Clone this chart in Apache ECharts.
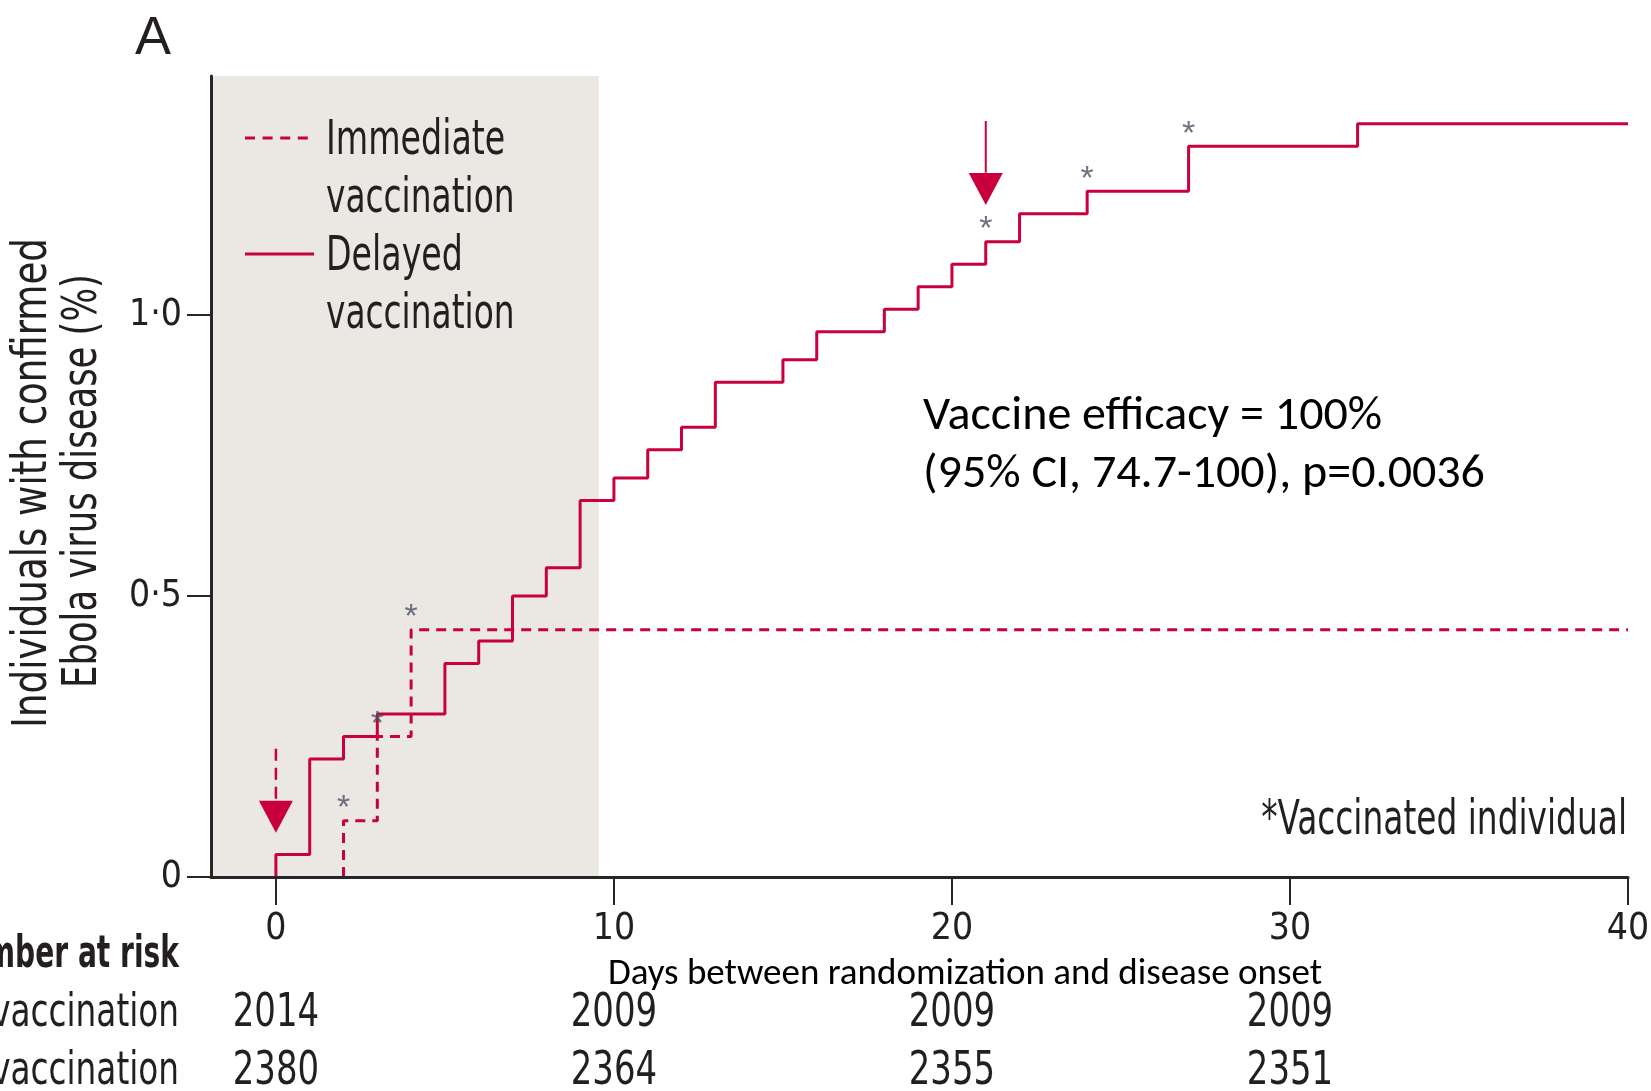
<!DOCTYPE html>
<html>
<head>
<meta charset="utf-8">
<script src="https://cdn.jsdelivr.net/npm/echarts@6/dist/echarts.min.js"></script>
<style>
  html, body { margin: 0; padding: 0; background: #fff; }
  #chart { width: 1651px; height: 1091px; }
</style>
</head>
<body>
<div id="chart"></div>
<script>
// data (cumulative % with confirmed EVD)
const xTicks = [0, 10, 20, 30, 40];
const yTicks = [0, 0.5, 1.0];

const delayedDays = [0, 0, 1, 2, 3, 5, 6, 7, 8, 9, 10, 11, 12, 13, 15, 16, 18, 19, 20, 21, 22, 24, 27, 32, 40];
const delayedPct = [0, 0.04, 0.21, 0.25, 0.29, 0.38, 0.42, 0.50, 0.55, 0.67, 0.71, 0.76, 0.80, 0.88, 0.92, 0.97, 1.01, 1.05, 1.09, 1.13, 1.18, 1.22, 1.30, 1.34, 1.34];

const immediateDays = [2, 2, 3, 4, 40];
const immediatePct = [0, 0.10, 0.25, 0.44, 0.44];

// vaccinated individuals (asterisks)
const immediateVaccDays = [2, 3, 4];
const immediateVaccPct = [0.10, 0.25, 0.44];
const delayedVaccDays = [21, 24, 27];
const delayedVaccPct = [1.13, 1.22, 1.30];

// vaccination time arrows
const immediateArrow = [[0, 0.228], [0, 0.135]];
const immediateHead = [0, 0.107];
const delayedArrow = [[21, 1.345], [21, 1.253]];
const delayedHead = [21, 1.224];

// shaded window (days)
const shadeEnd = 9.55;

// number at risk
const riskDays = [0, 10, 20, 30];
const immediateAtRisk = [2014, 2009, 2009, 2009];
const delayedAtRisk = [2380, 2364, 2355, 2351];

const RED = '#c8003c';
const INK = '#231f20';
const NARROW = '"Liberation Sans Narrow", "DejaVu Sans Condensed", "Liberation Sans", sans-serif';
const CAL = 'Carlito, Lato, "Open Sans", sans-serif';
const xMin = -1.92, yMax = 1.425;

const zip = (a, b) => a.map((v, i) => [v, b[i]]);

var chartDom = document.getElementById('chart');
var myChart = echarts.init(chartDom);
var option;

option = {
  animation: false,
  backgroundColor: '#fff',
  grid: { left: 211, right: 23, top: 76, bottom: 214, containLabel: false, outerBoundsMode: 'none' },
  xAxis: {
    type: 'value', min: xMin, max: 40, z: 10,
    axisLine: { onZero: false, lineStyle: { color: '#262626', width: 3 } },
    axisTick: { customValues: xTicks, length: 28, lineStyle: { color: '#262626', width: 2 } },
    axisLabel: { customValues: xTicks, margin: 52, verticalAlign: 'middle', fontFamily: NARROW, fontSize: 37, color: INK },
    splitLine: { show: false }
  },
  yAxis: {
    type: 'value', min: 0, max: yMax, z: 10,
    axisLine: { show: true, onZero: false, lineStyle: { color: '#262626', width: 3 } },
    axisTick: { show: true, customValues: yTicks, length: 24, lineStyle: { color: '#262626', width: 2 } },
    axisLabel: {
      customValues: yTicks, margin: 29, fontFamily: NARROW, fontSize: 37, color: INK,
      formatter: v => v === 0 ? '0' : v.toFixed(1).replace('.', '\u00b7')
    },
    splitLine: { show: false }
  },
  series: [
    {
      name: 'Delayed vaccination', type: 'line', step: 'end', symbol: 'none',
      data: zip(delayedDays, delayedPct),
      lineStyle: { color: RED, width: 3 },
      markArea: {
        silent: true,
        itemStyle: { color: '#ebe8e3' },
        data: [[{ xAxis: xMin, yAxis: 0 }, { xAxis: shadeEnd, yAxis: yMax }]]
      },
      z: 3
    },
    {
      name: 'Immediate vaccination', type: 'line', step: 'end', symbol: 'none',
      data: zip(immediateDays, immediatePct),
      lineStyle: { color: RED, width: 3, type: [10, 7] },
      z: 3
    },
    {
      type: 'scatter', symbolSize: 1, itemStyle: { color: 'rgba(0,0,0,0)' },
      data: zip(immediateVaccDays, immediateVaccPct).concat(zip(delayedVaccDays, delayedVaccPct)),
      label: {
        show: true, position: 'inside', offset: [0, -12], formatter: '*',
        fontFamily: '"Liberation Sans", sans-serif', fontSize: 34, color: '#4a5064'
      },
      z: 4
    },
    {
      type: 'line', symbol: 'none', data: immediateArrow,
      lineStyle: { color: RED, width: 2.5, type: [12, 7] }, z: 4
    },
    {
      type: 'line', symbol: 'none', data: delayedArrow,
      lineStyle: { color: RED, width: 2 }, z: 4
    },
    {
      type: 'scatter', symbol: 'triangle', symbolRotate: 180, symbolSize: [34, 32],
      data: [immediateHead, delayedHead],
      itemStyle: { color: RED, opacity: 1 }, z: 4
    }
  ]
};

option && myChart.setOption(option);

// condensed text helper (the figure uses a narrow typeface)
function txt(text, x, y, opts) {
  return {
    type: 'text', x: x, y: y, z: 100,
    scaleX: opts.sx || 1, rotation: opts.rot || 0,
    style: {
      text: text, fontFamily: opts.font || NARROW, fontSize: opts.size,
      fontWeight: opts.weight || 'normal', fill: opts.fill || INK,
      align: opts.align || 'left', verticalAlign: 'middle'
    }
  };
}

const graphics = [
  txt('A', 135, 39, { font: '"Liberation Sans", sans-serif', size: 54 }),
  // y axis title
  txt('Individuals with confirmed', 34, 483, { size: 48, sx: 0.86, rot: Math.PI / 2, align: 'center' }),
  txt('Ebola virus disease (%)', 84, 481, { size: 48, sx: 0.82, rot: Math.PI / 2, align: 'center' }),
  // legend
  { type: 'line', z: 100, shape: { x1: 245, y1: 138, x2: 309, y2: 138 }, style: { stroke: RED, lineWidth: 3, lineDash: [10, 7.6] } },
  { type: 'line', z: 100, shape: { x1: 245, y1: 254, x2: 314, y2: 254 }, style: { stroke: RED, lineWidth: 3 } },
  txt('Immediate', 326, 142, { size: 48, sx: 0.77 }),
  txt('vaccination', 326, 200, { size: 48, sx: 0.76 }),
  txt('Delayed', 326, 258, { size: 48, sx: 0.77 }),
  txt('vaccination', 326, 316, { size: 48, sx: 0.76 }),
  // annotations
  txt('Vaccine efficacy = 100%', 923, 417, { font: CAL, size: 48, fill: '#000' }),
  txt('(95% CI, 74.7-100), p=0.0036', 923, 475, { font: CAL, size: 48, fill: '#000' }),
  txt('*Vaccinated individual', 1627, 822, { size: 48, sx: 0.76, align: 'right' }),
  txt('Days between randomization and disease onset', 965, 975, { font: CAL, size: 37, fill: '#000', align: 'center' }),
  // number at risk
  txt('Number at risk', 179, 956, { size: 44, sx: 0.71, weight: 'bold', align: 'right' }),
  txt('Immediate vaccination', 179, 1014, { size: 46, sx: 0.79, align: 'right' }),
  txt('Delayed vaccination', 179, 1072, { size: 46, sx: 0.79, align: 'right' })
];

riskDays.forEach(function (d, i) {
  const x = myChart.convertToPixel({ xAxisIndex: 0 }, d);
  graphics.push(txt(String(immediateAtRisk[i]), x, 1014, { size: 46, sx: 0.82, align: 'center' }));
  graphics.push(txt(String(delayedAtRisk[i]), x, 1072, { size: 46, sx: 0.82, align: 'center' }));
});

myChart.setOption({ graphic: graphics });
</script>
</body>
</html>
